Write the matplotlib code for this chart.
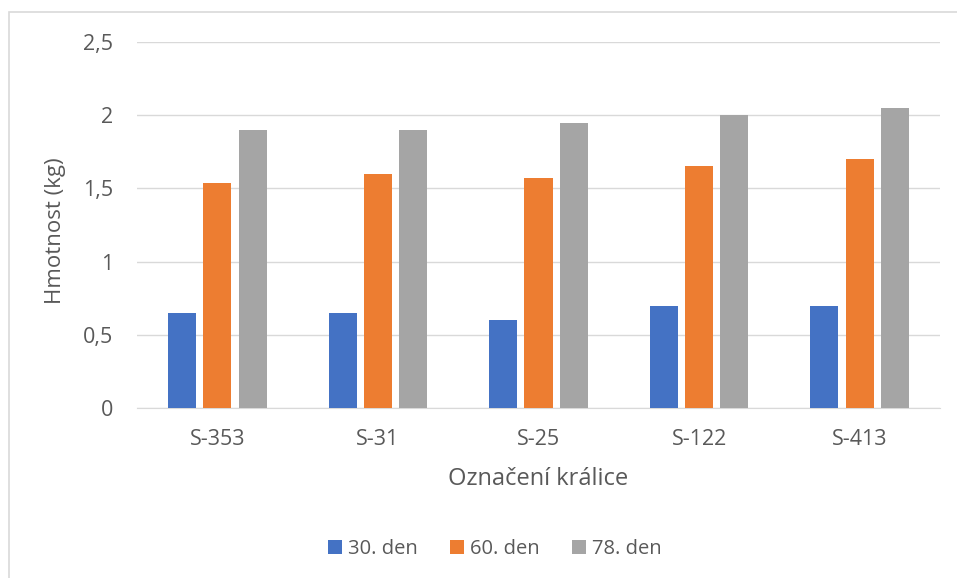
import matplotlib
matplotlib.use("Agg")
import matplotlib.pyplot as plt
import numpy as np
from matplotlib.patches import Rectangle

plt.rcParams["font.family"] = ["Open Sans", "DejaVu Sans"]

categories = ["S-353", "S-31", "S-25", "S-122", "S-413"]
series_names = ["30. den", "60. den", "78. den"]
den30 = [0.65, 0.65, 0.60, 0.70, 0.70]
den60 = [1.54, 1.60, 1.57, 1.65, 1.70]
den78 = [1.90, 1.90, 1.95, 2.00, 2.05]
colors = ["#4472C4", "#ED7D31", "#A5A5A5"]
yticks = [0, 0.5, 1, 1.5, 2, 2.5]
ytick_labels = ["0", "0,5", "1", "1,5", "2", "2,5"]

TXT = "#595959"

fig = plt.figure(figsize=(9.57, 5.78), dpi=100)
fig.patches.append(Rectangle((9 / 957, -0.1), 1.2, 1 - 12 / 578 + 0.1, transform=fig.transFigure,
                             fill=False, edgecolor="#D9D9D9", linewidth=1.2))
ax = fig.add_axes([137 / 957, 1 - 408 / 578, 803 / 957, 366 / 578])

x = np.arange(len(categories))
w = 0.175
for i, (vals, name) in enumerate(zip([den30, den60, den78], series_names)):
    ax.bar(x + (i - 1) * 0.22, vals, width=w, color=colors[i], label=name, zorder=3)

ax.set_xlim(-0.5, 4.5)
ax.set_ylim(0, 2.5)
ax.set_yticks(yticks)
ax.set_yticklabels(ytick_labels)
ax.set_xticks(x)
ax.set_xticklabels(categories)
ax.tick_params(axis="both", length=0, labelsize=15.5, colors=TXT)
ax.tick_params(axis="y", pad=17)
ax.tick_params(axis="x", pad=15)
ax.grid(axis="y", color="#D9D9D9", linewidth=1, zorder=0)
for s in ["top", "right", "left"]:
    ax.spines[s].set_visible(False)
ax.spines["bottom"].set_color("#D9D9D9")

ax.set_ylabel("Hmotnost (kg)", fontsize=16, color=TXT)
ax.yaxis.set_label_coords(-0.088, 0.485)
ax.set_xlabel("Označení králice", fontsize=17, color=TXT, labelpad=12)

fig.legend(loc="center", bbox_to_anchor=(495 / 957, 1 - 549 / 578), ncol=3, frameon=False,
           fontsize=14.5, labelcolor=TXT, handlelength=0.7, handleheight=0.7,
           handletextpad=0.3, columnspacing=1.6)

fig.savefig("out.png", dpi=100)
